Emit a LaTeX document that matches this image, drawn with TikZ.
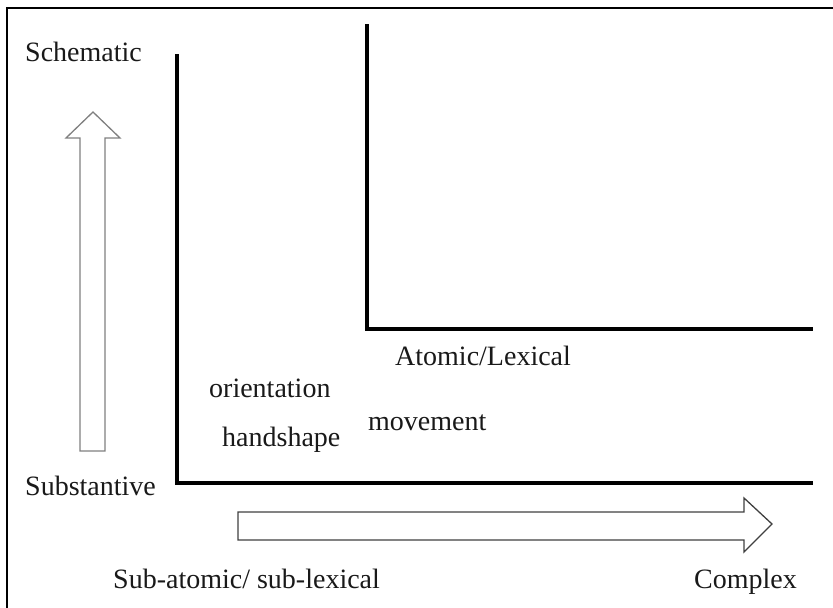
\documentclass[tikz,border=0pt]{standalone}
\usepackage{fontspec}
\setmainfont{Liberation Serif}
\usetikzlibrary{positioning}

\begin{document}
\begin{tikzpicture}[x=1pt, y=-1pt,
    axis/.style={line width=3.5pt, line cap=rect, black},
    scale_arrow/.style={draw=gray, line width=1.3pt, fill=white, line join=miter},
    label_text/.style={anchor=base west, inner sep=0pt, text=black!90, font=\fontsize{28}{30}\selectfont}
    ]
    \useasboundingbox (0,0) rectangle (833,608);
    \draw[line width=2pt] (7,8) rectangle (845,620);

    % the two L-shaped axes
    \coordinate (outer_top) at (177,56);
    \coordinate (outer_corner) at (177,483);
    \coordinate (outer_end) at (811,483);
    \coordinate (inner_top) at (367,26);
    \coordinate (inner_corner) at (367,329);
    \coordinate (inner_end) at (811,329);
    \draw[axis] (outer_top) -- (outer_corner) -- (outer_end);
    \draw[axis] (inner_top) -- (inner_corner) -- (inner_end);

    % hollow arrows
    \draw[scale_arrow] (80,451) -- (80,138) -- (66,138) -- (93,112) -- (120,138) -- (105,138) -- (105,451) -- cycle;
    \draw[scale_arrow, draw=black!75] (238,512) -- (744,512) -- (744,498) -- (772,524) -- (744,552) -- (744,540) -- (238,540) -- cycle;

    \node[label_text] (schematic) at (25,61) {Schematic};
    \node[label_text] (substantive) at (25,495) {Substantive};
    \node[label_text] (sub_atomic) at (113,588) {Sub-atomic/ sub-lexical};
    \node[label_text] (complex) at (694,588) {Complex};
    \node[label_text] (atomic) at (395,365) {Atomic/Lexical};
    \node[label_text] (orientation) at (209,397) {orientation};
    \node[label_text] (handshape) at (222,446) {handshape};
    \node[label_text] (movement) at (368,430) {movement};
  \end{tikzpicture}
\end{document}
